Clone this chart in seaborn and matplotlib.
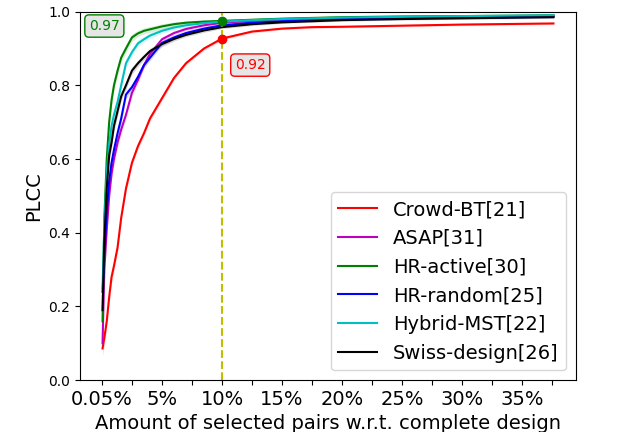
import numpy as np
import pandas as pd
import matplotlib
matplotlib.use("Agg")
import matplotlib.pyplot as plt
import seaborn as sns

# ---------- data ----------
pct = [0.05, 0.2, 0.4, 0.6, 0.8, 1.0, 1.3, 1.6, 2.0, 2.5, 3.0, 3.5, 4.0, 5.0,
       6.0, 7.0, 8.5, 10.0, 12.5, 15.0, 17.5, 20.0, 25.0, 30.0, 37.6]

crowd_bt = [0.086, 0.115, 0.16, 0.225, 0.28, 0.31, 0.36, 0.44, 0.52, 0.59, 0.635,
            0.67, 0.71, 0.765, 0.82, 0.86, 0.90, 0.927, 0.946, 0.954, 0.958,
            0.959, 0.962, 0.965, 0.968]
asap = [0.10, 0.30, 0.41, 0.50, 0.56, 0.60, 0.645, 0.68, 0.72, 0.78, 0.815, 0.855,
        0.885, 0.925, 0.942, 0.953, 0.963, 0.970, 0.975, 0.979, 0.981, 0.983,
        0.985, 0.987, 0.989]
hr_active = [0.16, 0.44, 0.60, 0.70, 0.76, 0.80, 0.84, 0.875, 0.90, 0.93, 0.941,
             0.948, 0.952, 0.960, 0.966, 0.970, 0.973, 0.975, 0.978, 0.981, 0.983,
             0.985, 0.987, 0.988, 0.990]
hr_random = [0.24, 0.34, 0.46, 0.54, 0.59, 0.625, 0.67, 0.71, 0.775, 0.795, 0.823,
             0.855, 0.875, 0.915, 0.930, 0.942, 0.954, 0.963, 0.970, 0.974, 0.977,
             0.979, 0.982, 0.984, 0.986]
hybrid_mst = [0.25, 0.42, 0.56, 0.64, 0.69, 0.72, 0.755, 0.80, 0.86, 0.89, 0.914,
              0.925, 0.935, 0.948, 0.957, 0.963, 0.969, 0.973, 0.977, 0.980, 0.982,
              0.984, 0.986, 0.988, 0.990]
swiss = [0.19, 0.38, 0.52, 0.61, 0.645, 0.69, 0.73, 0.77, 0.80, 0.84, 0.86, 0.877,
         0.893, 0.912, 0.926, 0.937, 0.949, 0.958, 0.966, 0.971, 0.974, 0.977,
         0.980, 0.982, 0.985]

# half width of the faint confidence band
band = [0.02, 0.02, 0.02, 0.018, 0.016, 0.015, 0.014, 0.012, 0.011, 0.01, 0.009,
        0.008, 0.008, 0.007, 0.006, 0.005, 0.005, 0.004, 0.004, 0.003, 0.003,
        0.003, 0.003, 0.003, 0.003]

methods = ["Crowd-BT[21]", "ASAP[31]", "HR-active[30]", "HR-random[25]",
           "Hybrid-MST[22]", "Swiss-design[26]"]
series = [crowd_bt, asap, hr_active, hr_random, hybrid_mst, swiss]
colors = ["r", "m", "g", "b", "c", "k"]

xticks = [0, 2.5, 5, 7.5, 10, 12.5, 15, 17.5, 20, 22.5, 25, 27.5, 30, 32.5, 35, 37.5]
xticklabels = ["0.05%", "", "5%", "", "10%", "", "15%", "", "20%", "", "25%", "",
               "30%", "", "35%", ""]

cut = 10.0
cut_green, cut_red = 0.975, 0.927
label_green, label_red = "0.97", "0.92"

# ---------- long form table ----------
df = pd.concat([pd.DataFrame({"pct": pct, "plcc": s, "method": m})
                for m, s in zip(methods, series)], ignore_index=True)

# ---------- plot ----------
fig, ax = plt.subplots(figsize=(6.4, 4.32), dpi=100)
fig.subplots_adjust(left=0.125, right=0.9, top=0.973, bottom=0.12)

for s, c in zip(series, colors):
    ax.fill_between(pct, np.array(s) - np.array(band), np.array(s) + np.array(band),
                    color=c, alpha=0.15, linewidth=0)

sns.lineplot(data=df, x="pct", y="plcc", hue="method", hue_order=methods,
             palette=dict(zip(methods, colors)), linewidth=1.5, ax=ax)

ax.axvline(cut, color="y", linestyle="--", linewidth=1.5)
ax.plot([cut], [cut_green], "o", color="g", markersize=6)
ax.plot([cut], [cut_red], "o", color="r", markersize=6)

box_face = "#e6e6e6"
ax.text(0.2, 0.961, label_green, color="g", fontsize=10, ha="center", va="center",
        bbox=dict(boxstyle="round", facecolor=box_face, edgecolor="g"))
ax.text(12.35, 0.855, label_red, color="r", fontsize=10, ha="center", va="center",
        bbox=dict(boxstyle="round", facecolor=box_face, edgecolor="r"))

ax.set_ylim(0, 1.0)
ax.set_xticks(xticks)
ax.set_xticklabels(xticklabels, fontsize=14)
ax.set_xlabel("Amount of selected pairs w.r.t. complete design", fontsize=14)
ax.set_ylabel("PLCC", fontsize=14)
ax.legend(loc="lower right", fontsize=14)

plt.savefig("out.png", dpi=100)
